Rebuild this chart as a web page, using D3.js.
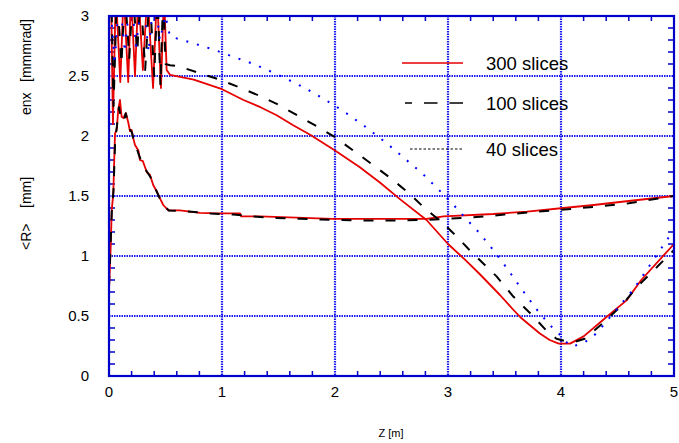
<!DOCTYPE html>
<html>
<head>
<meta charset="utf-8">
<script src="https://cdn.jsdelivr.net/npm/d3@7"></script>
<style>
  html, body { margin: 0; padding: 0; background: #fff; }
  svg { display: block; font-family: "Liberation Sans", Arial, Helvetica, sans-serif; }
</style>
</head>
<body>
<svg id="chart" width="679" height="443"></svg>
<script>
// ---- axis ticks ----
const xTickValues = [0, 1, 2, 3, 4, 5];
const xTickLabels = ["0", "1", "2", "3", "4", "5"];
const yTickValues = [0, 0.5, 1, 1.5, 2, 2.5, 3];
const yTickLabels = ["0", "0.5", "1", "1.5", "2", "2.5", "3"];

// ---- emittance curves (enx) ----
const emit300Z = [0.005, 0.018, 0.035, 0.06, 0.10, 0.13, 0.17, 0.195, 0.23, 0.26, 0.30, 0.34, 0.39, 0.425, 0.46, 0.487, 0.51, 0.54, 0.75, 1.0, 1.19, 1.34, 1.48, 1.63, 1.78, 2.0, 2.22, 2.40, 2.58, 2.81, 3.0, 3.15, 3.28, 3.46, 3.58, 3.64, 3.81, 3.90, 3.98, 4.08, 4.20, 4.40, 4.58, 4.71, 5.0];
const emit300V = [3.2, 3.2, 2.1, 3.2, 2.45, 3.2, 2.45, 3.2, 2.5, 3.2, 2.55, 3.2, 2.4, 3.2, 2.4, 3.2, 2.55, 2.51, 2.47, 2.39, 2.30, 2.24, 2.175, 2.09, 2.01, 1.88, 1.74, 1.61, 1.47, 1.30, 1.10, 0.97, 0.85, 0.675, 0.55, 0.49, 0.356, 0.30, 0.27, 0.27, 0.33, 0.49, 0.63, 0.80, 1.10];

const emit100Z = [0.005, 0.02, 0.04, 0.07, 0.11, 0.14, 0.18, 0.21, 0.25, 0.28, 0.32, 0.36, 0.40, 0.43, 0.455, 0.48, 0.50, 0.54, 0.62, 0.78, 0.98, 1.14, 1.32, 1.50, 1.69, 1.84, 2.0, 2.16, 2.32, 2.49, 2.66, 2.78, 2.96, 3.08, 3.19, 3.31, 3.43, 3.58, 3.73, 3.87, 3.96, 4.04, 4.12, 4.21, 4.37, 4.54, 4.67, 5.0];
const emit100V = [3.2, 3.2, 2.25, 3.2, 2.6, 3.2, 2.65, 3.2, 2.7, 3.2, 2.55, 3.2, 2.5, 3.2, 2.42, 3.2, 2.6, 2.59, 2.58, 2.53, 2.47, 2.41, 2.34, 2.26, 2.16, 2.08, 1.99, 1.88, 1.77, 1.65, 1.52, 1.41, 1.27, 1.16, 1.05, 0.94, 0.83, 0.66, 0.52, 0.38, 0.31, 0.29, 0.285, 0.31, 0.44, 0.59, 0.74, 1.05];

const emit40Z = [0.005, 0.05, 0.09, 0.14, 0.19, 0.24, 0.30, 0.35, 0.40, 0.45, 0.50, 0.54, 0.72, 0.91, 1.10, 1.28, 1.45, 1.65, 1.75, 1.90, 2.07, 2.25, 2.47, 2.62, 2.77, 2.91, 3.05, 3.18, 3.27, 3.40, 3.52, 3.64, 3.78, 3.90, 3.98, 4.05, 4.10, 4.21, 4.32, 4.46, 4.64, 5.0];
const emit40V = [3.2, 2.6, 3.2, 2.7, 3.2, 2.75, 3.2, 2.7, 3.2, 2.8, 3.0, 2.83, 2.78, 2.725, 2.66, 2.60, 2.53, 2.44, 2.39, 2.31, 2.21, 2.09, 1.93, 1.81, 1.69, 1.56, 1.425, 1.29, 1.20, 1.05, 0.90, 0.74, 0.56, 0.425, 0.355, 0.28, 0.245, 0.28, 0.36, 0.52, 0.72, 1.22];

// ---- beam radius curves (<R>) ----
const rad300Z = [0, 0.008, 0.016, 0.024, 0.038, 0.053, 0.068, 0.082, 0.097, 0.112, 0.127, 0.150, 0.171, 0.186, 0.200, 0.215, 0.230, 0.260, 0.274, 0.300, 0.334, 0.363, 0.392, 0.422, 0.451, 0.480, 0.525, 0.628, 0.805, 0.953, 1.16, 1.17, 1.336, 1.98, 2.81, 2.96, 3.40, 3.70, 4.02, 4.29, 4.52, 5.0];
const rad300V = [0.72, 0.9, 1.1, 1.38, 1.52, 2.02, 2.05, 2.22, 2.30, 2.16, 2.15, 2.19, 2.11, 2.04, 2.05, 1.98, 1.925, 1.88, 1.80, 1.79, 1.70, 1.675, 1.59, 1.54, 1.48, 1.425, 1.38, 1.38, 1.36, 1.355, 1.355, 1.33, 1.33, 1.31, 1.31, 1.33, 1.35, 1.37, 1.40, 1.425, 1.45, 1.50];

const rad100Z = [0, 0.008, 0.016, 0.026, 0.040, 0.055, 0.070, 0.088, 0.100, 0.115, 0.130, 0.148, 0.170, 0.188, 0.203, 0.218, 0.235, 0.258, 0.278, 0.300, 0.330, 0.365, 0.395, 0.425, 0.455, 0.485, 0.530, 0.700, 0.900, 1.100, 1.400, 1.700, 2.000, 2.400, 2.800, 3.000, 3.200, 3.500, 3.800, 4.000, 4.300, 4.600, 5.0];
const rad100V = [0.75, 0.95, 1.15, 1.4, 1.55, 1.98, 2.08, 2.24, 2.18, 2.13, 2.12, 2.19, 2.10, 2.05, 2.03, 1.97, 1.93, 1.86, 1.81, 1.78, 1.71, 1.66, 1.60, 1.53, 1.47, 1.42, 1.38, 1.37, 1.355, 1.345, 1.32, 1.31, 1.30, 1.295, 1.30, 1.31, 1.32, 1.345, 1.37, 1.385, 1.41, 1.44, 1.50];

// ---- legend ----
const legendLabels = ["300 slices", "100 slices", "40 slices"];

const W = 679, H = 443;
const plot = { left: 109, right: 674, top: 16, bottom: 376 };
const axisBlue = "#0000c8";
const gridBlue = "#1a1aee";

const svg = d3.select("#chart");
const x = d3.scaleLinear().domain([0, 5]).range([plot.left, plot.right]);
const y = d3.scaleLinear().domain([0, 3]).range([plot.bottom, plot.top]);

svg.append("defs").append("clipPath").attr("id", "plotClip")
  .append("rect")
  .attr("x", plot.left).attr("y", plot.top)
  .attr("width", plot.right - plot.left).attr("height", plot.bottom - plot.top);

// dotted grid at the labelled ticks
const grid = svg.append("g");
grid.selectAll("line.vx").data(xTickValues.slice(1, -1)).join("line")
  .attr("x1", d => x(d)).attr("x2", d => x(d))
  .attr("y1", plot.top).attr("y2", plot.bottom)
  .attr("stroke", gridBlue).attr("stroke-width", 2.2).attr("stroke-dasharray", "1.5,1");
grid.selectAll("line.hy").data(yTickValues.slice(1, -1)).join("line")
  .attr("y1", d => y(d)).attr("y2", d => y(d))
  .attr("x1", plot.left).attr("x2", plot.right)
  .attr("stroke", gridBlue).attr("stroke-width", 2.2).attr("stroke-dasharray", "1.5,1");

// minor ticks on all four sides
const xMinor = d3.range(0.2, 5, 0.2).filter(v => Math.abs(v - Math.round(v)) > 1e-6);
const yMinor = d3.range(0.1, 3, 0.1).filter(v => Math.abs(v * 2 - Math.round(v * 2)) > 1e-6);
const ticks = svg.append("g").attr("stroke", axisBlue).attr("stroke-width", 1.5);
ticks.selectAll("line.xb").data(xMinor).join("line")
  .attr("x1", d => x(d)).attr("x2", d => x(d))
  .attr("y1", plot.bottom).attr("y2", plot.bottom - 5);
ticks.selectAll("line.xt").data(xMinor).join("line")
  .attr("x1", d => x(d)).attr("x2", d => x(d))
  .attr("y1", plot.top).attr("y2", plot.top + 5);
ticks.selectAll("line.yl").data(yMinor).join("line")
  .attr("y1", d => y(d)).attr("y2", d => y(d))
  .attr("x1", plot.left).attr("x2", plot.left + 6);
ticks.selectAll("line.yr").data(yMinor).join("line")
  .attr("y1", d => y(d)).attr("y2", d => y(d))
  .attr("x1", plot.right).attr("x2", plot.right - 6);

// curves
const line = d3.line().x(d => x(d[0])).y(d => y(d[1]));
const pairs = (zs, vs) => zs.map((z, i) => [z, vs[i]]);
const curves = svg.append("g").attr("clip-path", "url(#plotClip)")
  .attr("fill", "none").attr("stroke-linejoin", "round");

const red = "#e60000";
curves.append("path").datum(pairs(rad300Z, rad300V)).attr("d", line)
  .attr("stroke", red).attr("stroke-width", 1.8);
curves.append("path").datum(pairs(emit300Z, emit300V)).attr("d", line)
  .attr("stroke", red).attr("stroke-width", 1.8);
curves.append("path").datum(pairs(rad100Z, rad100V)).attr("d", line)
  .attr("stroke", "#000").attr("stroke-width", 2).attr("stroke-dasharray", "10,12");
curves.append("path").datum(pairs(emit100Z, emit100V)).attr("d", line)
  .attr("stroke", "#000").attr("stroke-width", 2).attr("stroke-dasharray", "10,12");
curves.append("path").datum(pairs(emit40Z, emit40V)).attr("d", line)
  .attr("stroke", "#0000ff").attr("stroke-width", 2).attr("stroke-dasharray", "2,9");

// frame
svg.append("rect")
  .attr("x", plot.left).attr("y", plot.top)
  .attr("width", plot.right - plot.left).attr("height", plot.bottom - plot.top)
  .attr("fill", "none").attr("stroke", axisBlue).attr("stroke-width", 2.2);

// tick labels
svg.append("g").selectAll("text").data(xTickValues).join("text")
  .attr("x", d => x(d)).attr("y", 397)
  .attr("text-anchor", "middle").attr("font-size", 15).attr("fill", "#000")
  .text((d, i) => xTickLabels[i]);
svg.append("g").selectAll("text").data(yTickValues).join("text")
  .attr("x", 89).attr("y", d => y(d)).attr("dy", "0.35em")
  .attr("text-anchor", "end").attr("font-size", 15).attr("fill", "#000")
  .text((d, i) => yTickLabels[i]);

// axis titles
svg.append("text").attr("x", 391).attr("y", 437)
  .attr("text-anchor", "middle").attr("font-size", 11).text("Z [m]");
const yTitle = [["<R>", 250], ["[mm]", 208], ["enx", 115], ["[mmmrad]", 82]];
svg.append("g").selectAll("text").data(yTitle).join("text")
  .attr("transform", d => `translate(31,${d[1]}) rotate(-90)`)
  .attr("font-size", 14).attr("fill", "#000")
  .text(d => d[0]);

// legend
const lg = svg.append("g");
lg.append("line").attr("x1", 402).attr("x2", 463).attr("y1", 63).attr("y2", 63)
  .attr("stroke", red).attr("stroke-width", 1.3);
lg.append("line").attr("x1", 463).attr("x2", 405).attr("y1", 103).attr("y2", 103)
  .attr("stroke", "#000").attr("stroke-width", 1.5).attr("stroke-dasharray", "13.5,12");
lg.append("line").attr("x1", 410).attr("x2", 463).attr("y1", 149).attr("y2", 149)
  .attr("stroke", "#000").attr("stroke-width", 1).attr("stroke-dasharray", "2.5,2");
lg.selectAll("text").data(legendLabels).join("text")
  .attr("x", 486).attr("y", (d, i) => [63, 103, 149][i]).attr("dy", "0.36em")
  .attr("font-size", 18.5).attr("fill", "#000")
  .text(d => d);
</script>
</body>
</html>
